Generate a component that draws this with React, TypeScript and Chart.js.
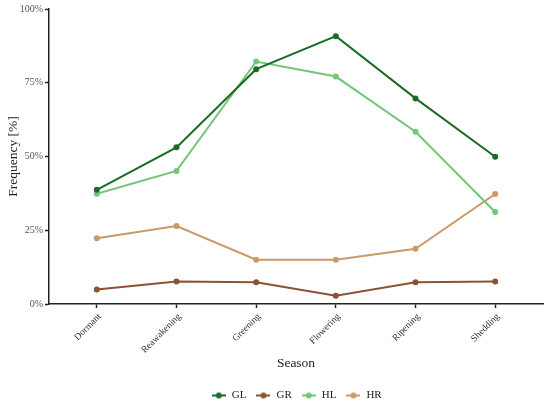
import React, { useEffect, useRef } from "react";
import { Chart, registerables } from "chart.js";

Chart.register(...registerables);

const seasons = ["Dormant", "Reawakening", "Greening", "Flowering", "Ripening", "Shedding"];
const seriesNames = ["GL", "GR", "HL", "HR"];
const GL = [38.7, 53.1, 79.6, 90.8, 69.7, 49.9];
const GR = [4.9, 7.6, 7.4, 2.8, 7.4, 7.6];
const HL = [37.4, 45.1, 82.2, 77.1, 58.4, 31.2];
const HR = [22.3, 26.4, 15.0, 15.0, 18.7, 37.3];
const yTicks = [0, 25, 50, 75, 100];
const colors = ["#1b6b26", "#8b5334", "#74c67a", "#c99a68"];

const FONT = "'Liberation Serif', 'Times New Roman', serif";

function legendIcon(color: string) {
  const c = document.createElement("canvas");
  c.width = 14;
  c.height = 8;
  const ctx = c.getContext("2d")!;
  ctx.strokeStyle = color;
  ctx.lineWidth = 2;
  ctx.beginPath();
  ctx.moveTo(0, 4);
  ctx.lineTo(14, 4);
  ctx.stroke();
  ctx.fillStyle = color;
  ctx.beginPath();
  ctx.arc(7, 4, 3, 0, Math.PI * 2);
  ctx.fill();
  return c;
}

const legendShift = {
  id: "legendShift",
  afterLayout(chart: any) {
    const lg = chart.legend;
    if (!lg) return;
    lg.left += 25;
    lg.right += 25;
    lg.top += 3;
    lg.bottom += 3;
  },
};

export default function App() {
  const ref = useRef<HTMLCanvasElement>(null);
  useEffect(() => {
    const all = [GL, GR, HL, HR];
    const icons = colors.map(legendIcon);
    const chart = new Chart(ref.current!, {
      type: "line",
      data: {
        datasets: seriesNames.map((name, i) => ({
          label: name,
          data: all[i].map((v, j) => ({ x: j, y: v })),
          borderColor: colors[i],
          backgroundColor: colors[i],
          borderWidth: 2,
          pointRadius: 3,
          pointBorderWidth: 0,
          fill: false,
          tension: 0,
        })),
      },
      plugins: [legendShift],
      options: {
        animation: false,
        responsive: false,
        devicePixelRatio: window.devicePixelRatio || 1,
        layout: { padding: { left: 0, right: 7, top: 9, bottom: 2 } },
        plugins: {
          tooltip: { enabled: false },
          legend: {
            position: "bottom",
            labels: {
              font: { family: FONT, size: 11 },
              color: "#222",
              usePointStyle: true,
              pointStyleWidth: 15,
              padding: 9.5,
              generateLabels: () =>
                seriesNames.map((n, i) => ({
                  text: n,
                  pointStyle: icons[i] as any,
                  fillStyle: colors[i],
                  strokeStyle: colors[i],
                  lineWidth: 0,
                  hidden: false,
                  datasetIndex: i,
                  fontColor: "#222",
                })),
            },
          },
        },
        scales: {
          x: {
            type: "linear",
            min: -0.6,
            max: 5.6,
            afterBuildTicks: (scale: any) => {
              scale.ticks = seasons.map((_, i) => ({ value: i }));
            },
            afterFit: (scale: any) => {
              scale.height = 73.5;
            },
            ticks: {
              autoSkip: false,
              minRotation: 45,
              maxRotation: 45,
              font: { family: FONT, size: 9.5 },
              color: "#333",
              padding: 3,
              labelOffset: 3,
              callback: (v: any) => seasons[Number(v)] ?? "",
            },
            grid: {
              drawOnChartArea: false,
              drawTicks: true,
              tickLength: 4,
              tickColor: "#222",
              tickWidth: 1.5,
            },
            border: { color: "#222", width: 1.5 },
            title: {
              display: true,
              text: "Season",
              font: { family: FONT, size: 13.5 },
              color: "#222",
              padding: { top: 4, bottom: 6 },
            },
          },
          y: {
            min: 0,
            max: 100,
            afterBuildTicks: (scale: any) => {
              scale.ticks = yTicks.map((v) => ({ value: v }));
            },
            afterFit: (scale: any) => {
              scale.width = 49;
            },
            ticks: {
              font: { family: FONT, size: 10 },
              color: "#555",
              padding: 2,
              callback: (v: any) => v + "%",
            },
            grid: {
              drawOnChartArea: false,
              drawTicks: true,
              tickLength: 4,
              tickColor: "#222",
              tickWidth: 1.5,
            },
            border: { color: "#222", width: 1.5 },
            title: {
              display: true,
              text: "Frequency [%]",
              font: { family: FONT, size: 13.5 },
              color: "#222",
              padding: { top: 5, bottom: 0 },
            },
          },
        },
      },
    } as any);
    return () => chart.destroy();
  }, []);
  return (
    <div style={{ position: "fixed", left: 0, top: 0, width: 550, height: 410, background: "#fff" }}>
      <canvas ref={ref} width={550} height={410} style={{ width: 550, height: 410 }} />
    </div>
  );
}
